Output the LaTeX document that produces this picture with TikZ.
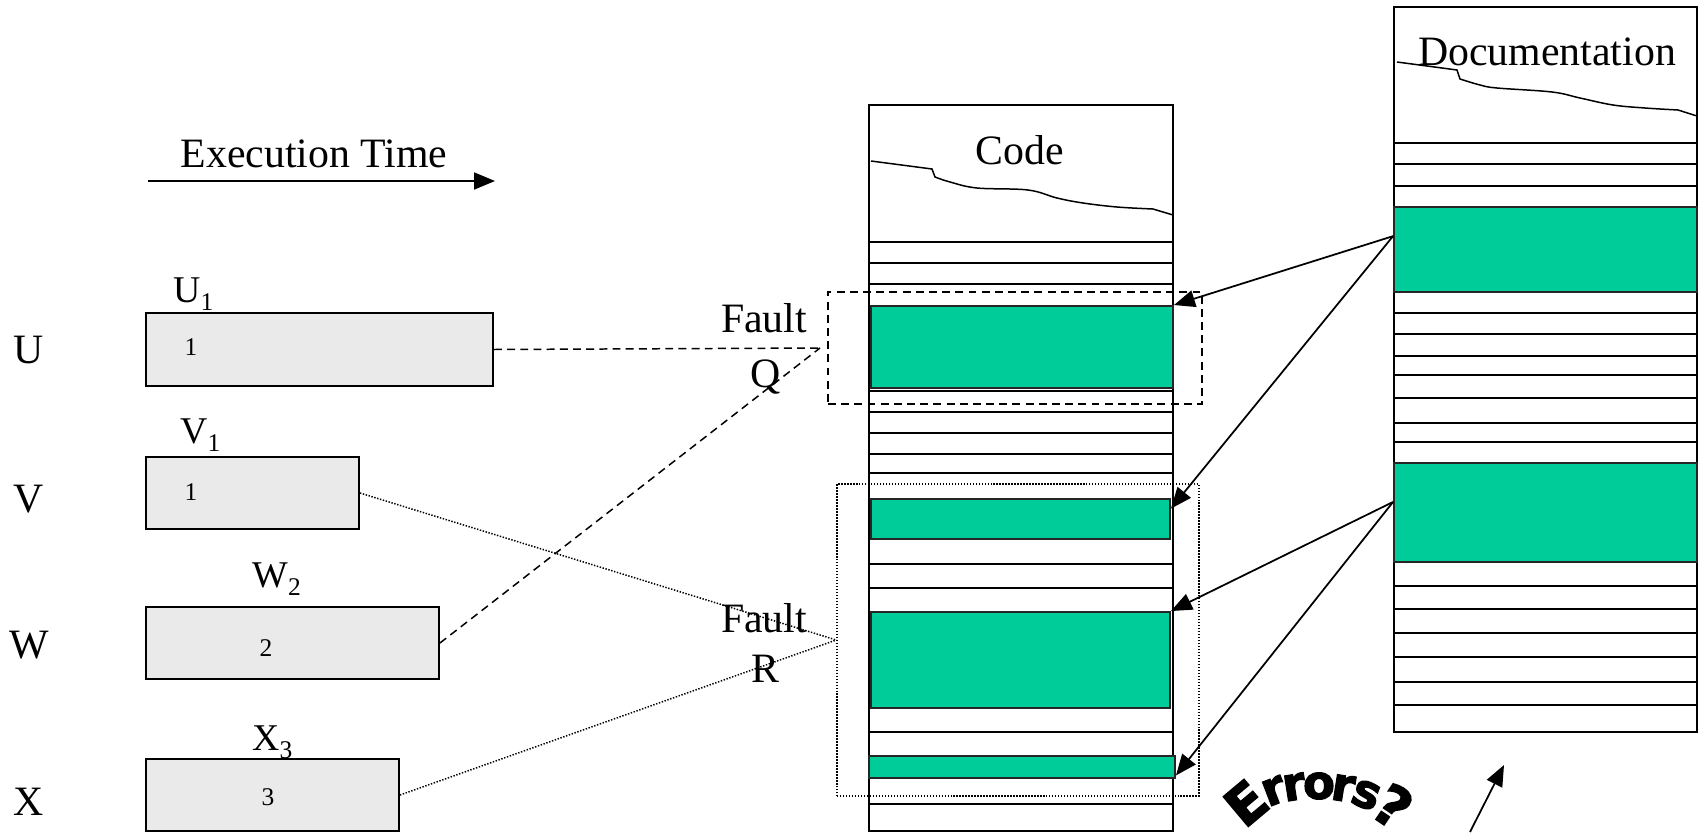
\documentclass[tikz,border=0pt]{standalone}
\usepackage{fontspec}
\setmainfont{Liberation Serif}
\newfontfamily\wordart[FakeBold=2.5]{DejaVu Sans}
\usetikzlibrary{arrows.meta, positioning, fit}

\definecolor{blockgreen}{RGB}{0,204,153}
\definecolor{taskgray}{RGB}{234,234,234}

\tikzset{
  colbox/.style={draw, line width=1.1pt, fill=white, inner sep=0pt},
  rowline/.style={line width=0.85pt},
  greenblk/.style={draw=black!85, fill=blockgreen, line width=1.1pt, inner sep=0pt},
  taskbox/.style={draw, fill=taskgray, line width=1.1pt, inner sep=0pt},
  faultq/.style={draw, dash pattern=on 4.5pt off 3pt, line width=0.85pt, inner sep=0pt},
  faultr/.style={draw, dash pattern=on 0.8pt off 0.9pt, line width=0.85pt, inner sep=0pt},
  bigtxt/.style={font=\fontsize{23.8}{28}\selectfont, inner sep=0pt},
  midtxt/.style={font=\fontsize{21.5}{25}\selectfont, inner sep=0pt},
  smalltxt/.style={font=\fontsize{14.5}{17}\selectfont, inner sep=0pt},
  errtxt/.style={font=\wordart\bfseries\fontsize{26.5}{27}\selectfont, inner sep=0pt},
  link/.style={-{Triangle[length=0.42cm, width=0.34cm]}, line width=1pt},
}
\newcommand{\tasklbl}[2]{#1\raisebox{-5pt}{\fontsize{14.5}{17}\selectfont #2}}

\begin{document}
\begin{tikzpicture}[x=0.02cm, y=-0.02cm]
  \useasboundingbox (0,0) rectangle (1701,832);

  % execution time axis
  \coordinate (t0) at (148,181);
  \coordinate (t1) at (495,181);
  \draw[link] (t0) -- (t1);
  \node[bigtxt, anchor=base] (exec) at (314,167) {Execution Time};

  % tasks
  \node[bigtxt, anchor=base] (rowU) at (29,363) {U};
  \node[bigtxt, anchor=base] (rowV) at (29,512) {V};
  \node[bigtxt, anchor=base] (rowW) at (29,658) {W};
  \node[bigtxt, anchor=base] (rowX) at (29,815) {X};

  \node[taskbox, fit={(146,313) (493,386)}] (u) {};
  \node[taskbox, fit={(146,457) (359,529)}] (v) {};
  \node[taskbox, fit={(146,607) (439,679)}] (w) {};
  \node[taskbox, fit={(146,759) (399,831)}] (x) {};

  \node[smalltxt] (u1) at (191,347) {1};
  \node[smalltxt] (v1) at (191,492) {1};
  \node[smalltxt] (w2) at (266,648) {2};
  \node[smalltxt] (x3) at (268,797) {3};

  \node[midtxt, anchor=base west] (labU) at (173,302) {\tasklbl{U}{1}};
  \node[midtxt, anchor=base west] (labV) at (180,443) {\tasklbl{V}{1}};
  \node[midtxt, anchor=base west] (labW) at (252,587) {\tasklbl{W}{2}};
  \node[midtxt, anchor=base west] (labX) at (252,750) {\tasklbl{X}{3}};

  % code column
  \node[colbox, fit={(869,105) (1173,831)}] (code) {};
  \node[bigtxt, anchor=base] (codetxt) at (1020,164) {Code};
  \draw[rowline] (871,161) -- (932,169) -- plot[smooth, tension=0.6] coordinates
    {(935,177) (950,182) (977,188) (1028,190) (1057,198) (1083,203) (1117,207) (1153,209)}
    -- (1173,215);
  \foreach \y in {242,263,284,391,412,433,454,473,564,588,732,804}
    \draw[rowline] (869,\y) -- (1173,\y);
  \node[greenblk, fit={(871,306) (1173,388)}] (c1) {};
  \node[greenblk, fit={(871,499) (1170,539)}] (c2) {};
  \node[greenblk, fit={(871,612) (1170,708)}] (c3) {};
  \node[greenblk, fit={(869,756) (1175,778)}] (c4) {};

  % documentation column
  \node[colbox, fit={(1394,7) (1697,732)}] (doc) {};
  \node[bigtxt, anchor=base] (doctxt) at (1547,65) {Documentation};
  \draw[rowline] (1397,62) -- (1457,70) -- plot[smooth, tension=0.6] coordinates
    {(1460,79) (1480,85) (1497,88) (1552,92) (1580,98) (1613,105) (1645,108) (1678,110)}
    -- (1697,116);
  \foreach \y in {143,164,186,313,334,356,375,398,423,442,586,609,633,657,682,705}
    \draw[rowline] (1394,\y) -- (1697,\y);
  \node[greenblk, fit={(1394,207) (1697,292)}] (d1) {};
  \node[greenblk, fit={(1394,463) (1697,562)}] (d2) {};

  % faults
  \node[faultq, fit={(828,292) (1202,404)}] (fq) {};
  \node[faultr, fit={(837,484) (1199,796)}] (fr) {};
  \node[bigtxt, anchor=base] (faultQ) at (764,332) {Fault};
  \node[bigtxt, anchor=base] (labQ) at (766,387) {Q};
  \node[bigtxt, anchor=base] (faultR) at (764,632) {Fault};
  \node[bigtxt, anchor=base] (labR) at (765,682) {R};

  \coordinate (qjoin) at (820,348);
  \draw[faultq] (u.east) -- (qjoin);
  \draw[faultq] (w.east) -- (qjoin);
  \draw[faultr] (v.east) -- (fr.west);
  \draw[faultr] (x.east) -- (fr.west);

  % doc to code
  \draw[link] ([yshift=7.6pt]d1.west) -- (c1.north east);
  \draw[link] ([yshift=7.6pt]d1.west) -- ([yshift=-6pt]c2.north east);
  \draw[link] ([yshift=6pt]d2.west) -- (c3.north east);
  \draw[link] ([yshift=6pt]d2.west) -- ([yshift=2pt]c4.south east);

  % errors, arched
  \foreach \ch/\px/\py/\a/\s [count=\i] in
    {E/1246/803/40/1.15, r/1274/791/21/1, r/1294/787/9/1, o/1319/786/0/1,
     r/1343/788/-9/1, s/1366/795/-21/1, ?/1393/806/-34/1.2}
    \node[errtxt, rotate=\a, scale=\s] (err\i) at (\px,\py) {\ch};
  \coordinate (errtail) at (1470,832);
  \coordinate (errtip) at (1504,765);
  \draw[link] (errtail) -- (errtip);
\end{tikzpicture}
\end{document}
